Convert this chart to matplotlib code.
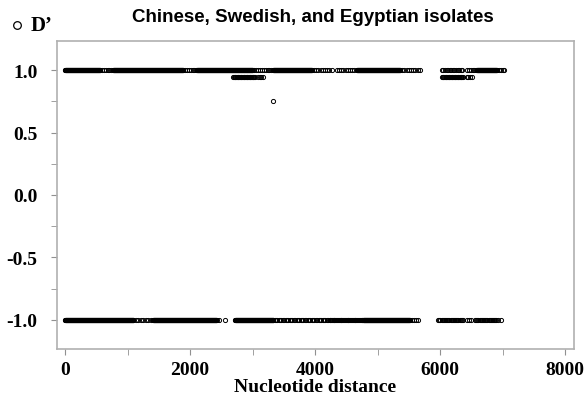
import numpy as np
import matplotlib.pyplot as plt
from matplotlib.lines import Line2D

# runs of SNP pairs: (start, end, spacing) in nucleotide distance
runsTop = [(0, 560, 4), (560, 770, 30), (770, 1890, 4), (1890, 2110, 30), (2110, 3000, 4),
           (3000, 3330, 30), (3330, 3950, 4), (3950, 4290, 35), (4350, 4640, 35),
           (4670, 5360, 4), (5360, 5680, 35), (6030, 6370, 25), (6430, 6590, 30),
           (6590, 6910, 4), (6910, 7060, 30)]
runsMid = [(2690, 3040, 12), (3090, 3180, 25), (6030, 6370, 12), (6430, 6510, 25)]
runsBottom = [(0, 1090, 4), (1090, 1410, 40), (1410, 2430, 4), (2460, 2561, 100),
              (2720, 3330, 4), (3330, 4240, 22), (4240, 4770, 14), (4770, 5520, 4),
              (5550, 5650, 30), (5970, 6370, 18), (6430, 6510, 30), (6560, 6910, 18),
              (6930, 7010, 40)]
midValue = 0.944
outlierX = [3330]
outlierY = [0.752]

def expand(runs):
    return np.concatenate([np.arange(a, b, s) for a, b, s in runs])

xTop = expand(runsTop)
xMid = expand(runsMid)
xBottom = expand(runsBottom)

fig = plt.figure(figsize=(5.87, 4.14), dpi=100)
ax = fig.add_axes([57/587, 1 - 350/414, 517/587, 308/414])

style = dict(linestyle='none', marker='o', markersize=3.0, markerfacecolor='none',
             markeredgecolor='black', markeredgewidth=0.7)
ax.plot(xTop, np.ones(len(xTop)), **style)
ax.plot(xMid, np.full(len(xMid), midValue), **style)
ax.plot(xBottom, -np.ones(len(xBottom)), **style)
ax.plot(outlierX, outlierY, **style)

ax.set_xlim(-128, 8144)
ax.set_ylim(-1.233, 1.233)
ax.set_xticks(np.arange(0, 8001, 2000))
ax.set_xticks(np.arange(0, 8001, 1000), minor=True)
ax.set_yticks([-1.0, -0.5, 0.0, 0.5, 1.0])
ax.set_yticks(np.arange(-1.0, 1.01, 0.25), minor=True)
ax.set_yticklabels(['-1.0', '-0.5', '0.0', '0.5', '1.0'])

for s in ax.spines.values():
    s.set_color('#b0b0b0')
    s.set_linewidth(1.2)
ax.tick_params(which='both', color='#909090', direction='out', length=4)
ax.tick_params(axis='y', which='major', pad=10)
ax.tick_params(axis='x', which='major', pad=5)
for lab in ax.get_xticklabels() + ax.get_yticklabels():
    lab.set_fontfamily('Liberation Serif')
    lab.set_fontweight('bold')
    lab.set_fontsize(14)

ax.set_xlabel('Nucleotide distance', family='Liberation Serif', weight='bold', fontsize=14, labelpad=0)
fig.text(313/587, 1 - 17/414, 'Chinese, Swedish, and Egyptian isolates', ha='center', va='center',
         family='Liberation Sans', weight='bold', fontsize=13.5)

# legend-like marker at top left
fig.add_artist(Line2D([17/587], [1 - 26/414], transform=fig.transFigure, marker='o',
                      markersize=5.5, markerfacecolor='white', markeredgecolor='black',
                      markeredgewidth=0.9, linestyle='none'))
fig.text(31/587, 1 - 26/414, 'D\u2019', ha='left', va='center', family='Liberation Serif',
         weight='bold', fontsize=15)

plt.savefig('out.png', dpi=100)
